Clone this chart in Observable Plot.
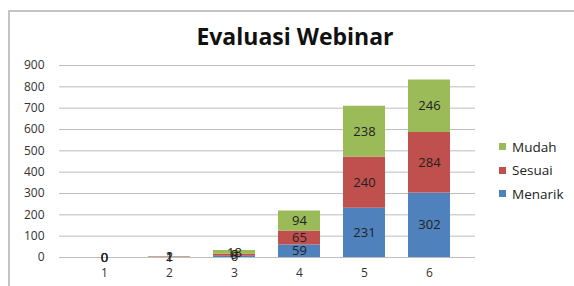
<!DOCTYPE html>
<html><head><meta charset="utf-8">
<script src="https://cdn.jsdelivr.net/npm/d3@7"></script>
<script src="https://cdn.jsdelivr.net/npm/@observablehq/plot@0.6"></script>
<style>
body{margin:0;background:#fff;font-family:"Open Sans",sans-serif;}
#wrap{position:relative;width:574px;height:286px;overflow:hidden;}
#frame{position:absolute;left:8px;top:10px;width:600px;height:300px;border-left:2px solid #c4c4c4;border-top:2px solid #c4c4c4;}
#title{position:absolute;left:0;top:0;width:574px;height:52px;font-weight:bold;font-size:23px;line-height:24px;color:#111;}
#title span{position:absolute;left:0;right:-16px;top:24px;text-align:center;}
#chart{position:absolute;left:0;top:52px;}
#legend{position:absolute;left:499px;top:135px;font-size:13.5px;color:#222;}
#legend div{height:23.5px;display:flex;align-items:center;}
#legend i{display:inline-block;width:7px;height:7px;margin-right:6px;}
</style></head>
<body><div id="wrap"><div id="frame"></div><div id="title"><span>Evaluasi Webinar</span></div><div id="chart"></div><div id="legend"></div></div>
<script>
const categories = ["1","2","3","4","5","6"];
const menarik = [0, 1, 6, 59, 231, 302];
const sesuai  = [0, 2, 9, 65, 240, 284];
const mudah   = [0, 1, 18, 94, 238, 246];
const seriesNames = ["Menarik","Sesuai","Mudah"];
const seriesColors = ["#4F81BD","#C0504D","#9BBB59"];
const yTicks = [0,100,200,300,400,500,600,700,800,900];

const rows = [];
categories.forEach((c,i)=>{
  rows.push({x:c, s:"Menarik", v:menarik[i]});
  rows.push({x:c, s:"Sesuai", v:sesuai[i]});
  rows.push({x:c, s:"Mudah", v:mudah[i]});
});

const plot = Plot.plot({
  width:574, height:234,
  marginLeft:59, marginRight:99, marginTop:13, marginBottom:29,
  style:{fontFamily:"Open Sans, sans-serif", fontSize:"12px", color:"#333", background:"transparent"},
  x:{domain:categories, padding:0.35, label:null},
  y:{domain:[0,900], label:null},
  color:{domain:seriesNames, range:seriesColors},
  marks:[
    Plot.gridY(yTicks, {stroke:"#bdbdbd", strokeOpacity:1, strokeWidth:1}),
    Plot.axisY(yTicks, {tickSize:0, tickPadding:15, fill:"#333", fontSize:12, label:null}),
    Plot.axisX(categories, {tickSize:0, tickPadding:11, fill:"#333", fontSize:12, label:null}),
    Plot.barY(rows, {x:"x", y:"v", fill:"s", order:seriesNames}),
    Plot.text(rows, Plot.stackY({x:"x", y:"v", z:"s", order:seriesNames, text:"v", fill:"#222", fontSize:13}))
  ]
});
document.getElementById("chart").appendChild(plot);

const leg = document.getElementById("legend");
[2,1,0].forEach(i=>{
  const d=document.createElement("div");
  d.innerHTML=`<i style="background:${seriesColors[i]}"></i>${seriesNames[i]}`;
  leg.appendChild(d);
});
</script></body></html>
